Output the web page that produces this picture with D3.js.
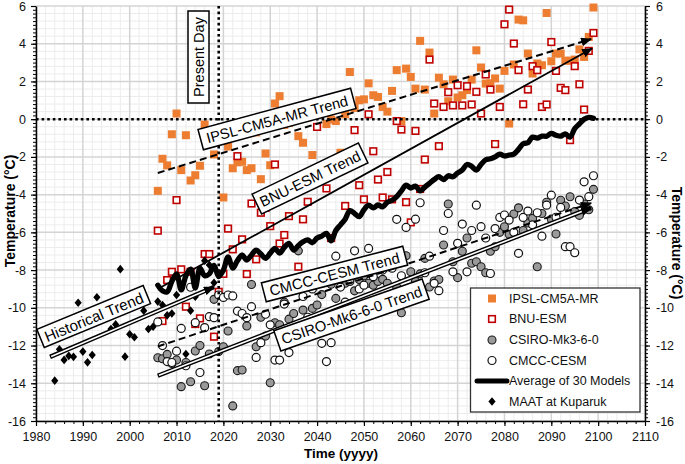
<!DOCTYPE html>
<html><head><meta charset="utf-8">
<script src="https://cdn.jsdelivr.net/npm/d3@7"></script>
<style>body{margin:0;background:#fff} text{font-family:"Liberation Sans",Arial,sans-serif}</style>
</head><body><svg id="c" width="685" height="464"></svg>
<script>
// ---------- DATA ----------
const modelStartYear = 2006;
const ipsl = [
 -3.8,-2.1,-2.45,-0.8,0.3,-2.7,-0.85,-3.25,-2.97,-2.47,
 -0.28,-1.2,-1.87,-1.1,-4.15,-1.45,-2.6,-2.29,-2.26,-2.7,
 -2.6,-0.7,-3.18,-1.82,-2.44,0.83,1.22,-0.3,-0.2,0.0,
 -0.9,-1.25,0.1,-1.9,0.3,0.5,-0.26,-0.02,-0.1,-1.78,
 0.26,2.5,0.6,1.0,1.05,1.9,1.27,1.18,0.65,0.4,
 1.5,2.6,-0.1,2.68,2.24,1.62,4.15,1.57,3.53,0.3,
 2.2,1.85,0.95,2.1,1.15,1.27,1.54,2.1,3.65,2.74,
 1.89,1.9,2.16,1.62,2.56,-0.23,2.9,5.28,5.24,3.48,
 2.42,2.95,2.86,5.63,3.07,3.48,3.48,3.1,3.1,3.16,
 3.7,3.3,4.36,5.92];
const bnu = [
 -5.91,-10.7,-8.53,-8.09,-4.29,-7.96,-9.94,-8.09,-10.86,-10.56,
 -7.15,-7.15,-11.53,-9.15,-8.2,-5.8,-6.9,-1.96,-6.37,-8.21,
 -4.47,-7.43,-4.96,-4.7,-5.67,-2.4,-6.59,-6.14,-5.14,-3.8,
 -7.82,-5.31,-4.38,-3.3,-0.41,-3.0,-3.67,-6.3,-2.8,-2.3,
 -4.6,-2.1,-0.58,-3.5,-4.25,0.26,-1.7,-3.2,-4.15,-2.8,
 -4.25,-0.1,-0.55,-4.4,-5.47,-0.62,-3.7,-2.14,3.16,0.83,
 -1.43,0.65,1.43,0.73,1.8,0.73,1.75,0.78,1.45,0.3,
 2.37,1.57,-1.32,0.65,5.03,5.81,4.01,2.6,0.79,1.57,
 2.81,2.6,0.65,0.78,4.09,2.56,1.66,1.54,-1.11,2.81,
 1.85,0.51,3.62,4.57];
const csiro = [
 -12.65,-12.7,-12.47,-12.95,-12.77,-14.18,-12.9,-13.92,-12.29,-12.0,
 -14.13,-12.45,-9.55,-12.32,-12.06,-11.23,-15.2,-13.33,-13.3,-10.96,
 -8.76,-12.06,-10.5,-11.5,-13.97,-10.79,-10.9,-9.7,-10.6,-10.3,
 -6.98,-10.12,-10.6,-10.03,-9.85,-9.3,-8.6,-8.75,-9.5,-8.4,
 -8.7,-8.6,-9.1,-8.5,-8.3,-8.7,-8.8,-8.6,-8.49,-8.7,
 -7.3,-8.9,-10.26,-7.24,-8.09,-8.6,-8.2,-7.38,-8.9,-8.58,
 -8.5,-6.67,-4.5,-7.56,-8.4,-7.0,-6.3,-7.64,-7.56,-7.82,
 -8.14,-7.0,-6.76,-6.0,-5.7,-6.1,-5.03,-4.7,-5.9,-5.5,
 -5.26,-7.82,-5.0,-4.4,-5.3,-6.09,-4.3,-4.6,-4.11,-4.9,
 -5.1,-4.5,-4.8,-3.72];
const cmcc = [
 -10.75,-12.0,-12.85,-12.9,-12.3,-11.09,-13.07,-8.91,-10.79,-13.43,
 -11.05,-10.47,-10.52,-9.32,-9.45,-9.32,-9.37,-10.17,-10.3,-10.52,
 -9.94,-12.63,-11.85,-10.34,-10.9,-12.77,-12.77,-9.8,-12.37,-11.3,
 -8.6,-9.4,-10.5,-9.0,-11.0,-11.88,-12.85,-11.85,-7.26,-8.9,
 -9.7,-8.5,-6.98,-9.0,-8.8,-6.85,-8.35,-9.9,-8.0,-9.5,
 -7.9,-5.31,-8.3,-5.74,-9.5,-5.3,-4.43,-8.14,-7.26,-8.7,
 -9.09,-5.9,-5.0,-8.09,-6.58,-5.56,-8.09,-5.9,-4.56,-5.7,
 -6.3,-8.18,-5.8,-5.21,-5.08,-5.35,-6.0,-7.11,-5.21,-4.87,
 -5.6,-4.96,-6.2,-4.56,-4.03,-5.2,-4.68,-6.76,-6.76,-7.08,
 -4.29,-3.32,-4.11,-3.0];
const avg30 = [
 -8.8,-9.1,-9.15,-8.6,-8.2,-9.05,-8.3,-7.95,-8.95,-7.9,
 -8.3,-8.2,-7.75,-8.35,-8.0,-7.3,-7.9,-7.5,-7.2,-7.47,
 -7.2,-6.94,-7.15,-7.38,-7.1,-6.85,-7.1,-6.8,-6.58,-6.94,
 -6.7,-6.5,-6.4,-6.55,-6.3,-6.2,-6.05,-6.45,-5.9,-5.6,
 -5.3,-4.85,-5.0,-5.17,-4.8,-4.56,-4.7,-4.55,-4.65,-4.4,
 -4.3,-4.1,-3.8,-3.5,-3.65,-3.55,-3.8,-3.6,-3.4,-3.2,
 -3.05,-3.2,-3.0,-3.05,-2.85,-2.7,-2.4,-2.5,-2.7,-2.4,
 -2.15,-2.1,-2.0,-1.85,-1.95,-1.9,-1.85,-1.6,-1.3,-1.25,
 -0.95,-1.0,-0.9,-0.9,-0.75,-0.85,-0.9,-0.78,-0.95,-0.5,
 -0.25,0.0,0.1,0.05];
const maatYears = [1984,1985,1986,1987,1988,1989,1990,1991,1992,1993,1996,1997,1998,1999,2000,2001,2003,2004,2005,2006,2007,2008,2009,2010,2012,2013,2014,2016,2017,2018];
const maatTemps = [-13.86,-12.2,-12.76,-12.55,-12.6,-9.73,-12.32,-12.89,-12.5,-9.44,-11.12,-10.88,-7.95,-12.59,-11.4,-11.56,-10.15,-11.12,-11.0,-9.67,-9.85,-10.4,-10.3,-9.32,-12.45,-10.15,-9.41,-7.5,-7.73,-8.67];

const trendNames = ["Historical Trend","IPSL-CM5A-MR Trend","BNU-ESM Trend","CMCC-CESM Trend","CSIRO-Mk6-6-0 Trend"];
const trendStartYear = [1983,2006,2006,2006,2006];
const trendStartTemp = [-12.6,-2.85,-9.0,-12.05,-13.6];
const trendEndYear = [2018,2098.5,2098.7,2098.5,2098.5];
const trendEndTemp = [-8.9,4.25,3.75,-4.45,-4.7];

const presentDayYear = 2019;
const xTicks = [1980,1990,2000,2010,2020,2030,2040,2050,2060,2070,2080,2090,2100,2110];
const yTicks = [-16,-14,-12,-10,-8,-6,-4,-2,0,2,4,6];
const legendLabels = ["IPSL-CM5A-MR","BNU-ESM","CSIRO-Mk3-6-0","CMCC-CESM","Average of 30 Models","MAAT at Kuparuk"];

// ---------- CHART ----------
const svg = d3.select("#c");
const x = d3.scaleLinear().domain([1980,2110]).range([36,645]);
const y = d3.scaleLinear().domain([-16,6]).range([421,6]);
const yr = i => modelStartYear + i;

// grid
const grid = svg.append("g");
const minorX = d3.range(1980,2111,2).filter(v=>v%10!==0);
const minorY = d3.range(0,56).map(i=>-16+i*0.4).filter(v=>Math.abs(v/2-Math.round(v/2))>1e-6);
grid.selectAll(".mx").data(minorX).join("line").attr("x1",d=>x(d)).attr("x2",d=>x(d)).attr("y1",y(6)).attr("y2",y(-16)).attr("stroke","#ececec").attr("stroke-width",1);
grid.selectAll(".my").data(minorY).join("line").attr("y1",d=>y(d)).attr("y2",d=>y(d)).attr("x1",x(1980)).attr("x2",x(2110)).attr("stroke","#ececec").attr("stroke-width",1);
grid.selectAll(".Mx").data(xTicks).join("line").attr("x1",d=>x(d)).attr("x2",d=>x(d)).attr("y1",y(6)).attr("y2",y(-16)).attr("stroke","#d4d4d4").attr("stroke-width",1.5);
grid.selectAll(".My").data(yTicks).join("line").attr("y1",d=>y(d)).attr("y2",d=>y(d)).attr("x1",x(1980)).attr("x2",x(2110)).attr("stroke","#d4d4d4").attr("stroke-width",1.5);

// axes
function styleAxis(g){ g.selectAll("path.domain").attr("stroke","#000").attr("stroke-width",1.5);
  g.selectAll(".tick line").attr("stroke","#000").attr("stroke-width",1.2);
  g.selectAll("text").attr("font-size","12.5px").attr("fill","#111").attr("font-family","Liberation Sans, Arial, sans-serif"); }
const minorYT = d3.range(0,111).map(i=>-16+i*0.2);
const minorXT = d3.range(1980,2111,2);
svg.append("g").attr("transform",`translate(${x(1980)},0)`).call(d3.axisLeft(y).tickValues(minorYT).tickSize(3).tickFormat("")).call(g=>{g.select(".domain").remove();g.selectAll("line").attr("stroke","#000");});
svg.append("g").attr("transform",`translate(${x(2110)},0)`).call(d3.axisRight(y).tickValues(minorYT).tickSize(3).tickFormat("")).call(g=>{g.select(".domain").remove();g.selectAll("line").attr("stroke","#000");});
svg.append("g").attr("transform",`translate(0,${y(-16)})`).call(d3.axisBottom(x).tickValues(minorXT).tickSize(3).tickFormat("")).call(g=>{g.select(".domain").remove();g.selectAll("line").attr("stroke","#000");});
svg.append("g").attr("transform",`translate(${x(1980)},0)`).call(d3.axisLeft(y).tickValues(yTicks).tickSize(5).tickSizeOuter(0).tickPadding(5).tickFormat(d=>String(d))).call(styleAxis);
svg.append("g").attr("transform",`translate(${x(2110)},0)`).call(d3.axisRight(y).tickValues(yTicks).tickSize(5).tickSizeOuter(0).tickPadding(6).tickFormat(d=>String(d))).call(styleAxis);
svg.append("g").attr("transform",`translate(0,${y(-16)})`).call(d3.axisBottom(x).tickValues(xTicks).tickSize(5).tickSizeOuter(0).tickPadding(6).tickFormat(d=>String(d))).call(styleAxis);

// axis titles
svg.append("text").attr("transform","translate(10,211) rotate(-90)").attr("text-anchor","middle").attr("dominant-baseline","central").attr("font-size","14px").attr("font-weight","bold").text("Temperature (°C)");
svg.append("text").attr("transform","translate(677,243) rotate(90)").attr("text-anchor","middle").attr("dominant-baseline","central").attr("font-size","14px").attr("font-weight","bold").text("Temperature (°C)");
svg.append("text").attr("x",341).attr("y",458).attr("text-anchor","middle").attr("font-size","13.5px").attr("font-weight","bold").text("Time (yyyy)");

// markers
const defs = svg.append("defs");
defs.append("marker").attr("id","arr").attr("markerUnits","userSpaceOnUse").attr("markerWidth",11).attr("markerHeight",9)
  .attr("refX",10).attr("refY",4.5).attr("orient","auto").append("path").attr("d","M0,0 L11,4.5 L0,9 Z").attr("fill","#000");

// series
const plot = svg.append("g");
plot.append("g").selectAll("rect").data(ipsl).join("rect")
  .attr("x",(d,i)=>x(yr(i))-4).attr("y",d=>y(d)-4).attr("width",8).attr("height",8).attr("fill","#ED7D31");
plot.append("g").selectAll("rect").data(bnu).join("rect")
  .attr("x",(d,i)=>x(yr(i))-3.3).attr("y",d=>y(d)-3.3).attr("width",6.6).attr("height",6.6).attr("fill","#fff").attr("stroke","#C00000").attr("stroke-width",1.6);
plot.append("g").selectAll("circle").data(csiro).join("circle")
  .attr("cx",(d,i)=>x(yr(i))).attr("cy",d=>y(d)).attr("r",4).attr("fill","#9a9a9a").attr("stroke","#1a1a1a").attr("stroke-width",1.1);
plot.append("g").selectAll("circle").data(cmcc).join("circle")
  .attr("cx",(d,i)=>x(yr(i))).attr("cy",d=>y(d)).attr("r",4).attr("fill","#fff").attr("stroke","#111").attr("stroke-width",1.2);

// dotted reference lines
plot.append("line").attr("x1",x(1980)).attr("x2",x(2110)).attr("y1",y(0)).attr("y2",y(0)).attr("stroke","#000").attr("stroke-width",2.6).attr("stroke-dasharray","2.6,3");
plot.append("line").attr("x1",x(presentDayYear)).attr("x2",x(presentDayYear)).attr("y1",y(6)).attr("y2",y(-16)).attr("stroke","#000").attr("stroke-width",2.6).attr("stroke-dasharray","2.6,3");

// average
plot.append("path").datum(avg30).attr("fill","none").attr("stroke","#000").attr("stroke-width",5.3).attr("stroke-linejoin","round").attr("stroke-linecap","round")
  .attr("d",d3.line().x((d,i)=>x(yr(i))).y(d=>y(d)).curve(d3.curveCatmullRom));

// MAAT diamonds
plot.append("g").selectAll("path").data(maatTemps).join("path")
  .attr("transform",(d,i)=>`translate(${x(maatYears[i])},${y(d)})`).attr("d","M0,-4.3 L3.6,0 L0,4.3 L-3.6,0 Z").attr("fill","#000");

// trends
const trendStyle = ["double","dashed","solid","dashed","double"];
trendNames.forEach((n,i)=>{
  const x0=x(trendStartYear[i]), y0=y(trendStartTemp[i]), x1=x(trendEndYear[i]), y1=y(trendEndTemp[i]);
  const st = trendStyle[i];
  if(st==="double"){
    plot.append("line").attr("x1",x0).attr("y1",y0).attr("x2",x1).attr("y2",y1).attr("stroke","#000").attr("stroke-width",4.4).attr("marker-end","url(#arr)");
    const L=Math.hypot(x1-x0,y1-y0), ux=(x1-x0)/L, uy=(y1-y0)/L;
    plot.append("line").attr("x1",x0+ux*1.2).attr("y1",y0+uy*1.2).attr("x2",x1-ux*10).attr("y2",y1-uy*10).attr("stroke","#fff").attr("stroke-width",1.6);
  } else {
    plot.append("line").attr("x1",x0).attr("y1",y0).attr("x2",x1).attr("y2",y1).attr("stroke","#000").attr("stroke-width",st==="dashed"?2:1.8)
      .attr("stroke-dasharray",st==="dashed"?"7,4":null).attr("marker-end","url(#arr)");
  }
});

// labels
const labelCx = [93.7,277,310,334.5,351.5], labelCy=[316.5,119,178.5,274,315], labelAng=[-22.4,-15.1,-25.7,-14.5,-19.2],
      labelW=[115,158,118,146,157], labelH=[19.5,21,22,19.5,21.5], labelFs=[15.2,14.6,14.8,14.8,14.8];
function boxLabel(txt,cx,cy,ang,w,h,fs){
  const g=svg.append("g").attr("transform",`translate(${cx},${cy}) rotate(${ang})`);
  g.append("rect").attr("x",-w/2).attr("y",-h/2).attr("width",w).attr("height",h).attr("fill","#fff").attr("stroke","#000").attr("stroke-width",1.5);
  g.append("text").attr("text-anchor","middle").attr("dominant-baseline","central").attr("y",0.5).attr("font-size",fs+"px").attr("fill","#000").text(txt);
}
trendNames.forEach((n,i)=>boxLabel(n,labelCx[i],labelCy[i],labelAng[i],labelW[i],labelH[i],labelFs[i]));
boxLabel("Present Day",198.5,57,-90,92,21,14.5);

// legend
const lg = svg.append("g");
lg.append("rect").attr("x",470.5).attr("y",288).attr("width",169.5).attr("height",124).attr("fill","#fff").attr("stroke","#333").attr("stroke-width",1.3);
const ly = [298.5,319,340,360.5,381,401.5], mx=492;
lg.append("rect").attr("x",mx-4).attr("y",ly[0]-4).attr("width",8).attr("height",8).attr("fill","#ED7D31");
lg.append("rect").attr("x",mx-3.3).attr("y",ly[1]-3.3).attr("width",6.6).attr("height",6.6).attr("fill","#fff").attr("stroke","#C00000").attr("stroke-width",1.6);
lg.append("circle").attr("cx",mx).attr("cy",ly[2]).attr("r",4).attr("fill","#9a9a9a").attr("stroke","#1a1a1a").attr("stroke-width",1.1);
lg.append("circle").attr("cx",mx).attr("cy",ly[3]).attr("r",4).attr("fill","#fff").attr("stroke","#111").attr("stroke-width",1.2);
lg.append("line").attr("x1",477).attr("x2",507).attr("y1",ly[4]).attr("y2",ly[4]).attr("stroke","#000").attr("stroke-width",5).attr("stroke-linecap","round");
lg.append("path").attr("transform",`translate(${mx},${ly[5]})`).attr("d","M0,-4.3 L3.6,0 L0,4.3 L-3.6,0 Z").attr("fill","#000");
lg.selectAll("text").data(legendLabels).join("text").attr("x",509).attr("y",(d,i)=>ly[i]).attr("dominant-baseline","central").attr("font-size","12.5px").attr("fill","#111").text(d=>d);
</script></body></html>
